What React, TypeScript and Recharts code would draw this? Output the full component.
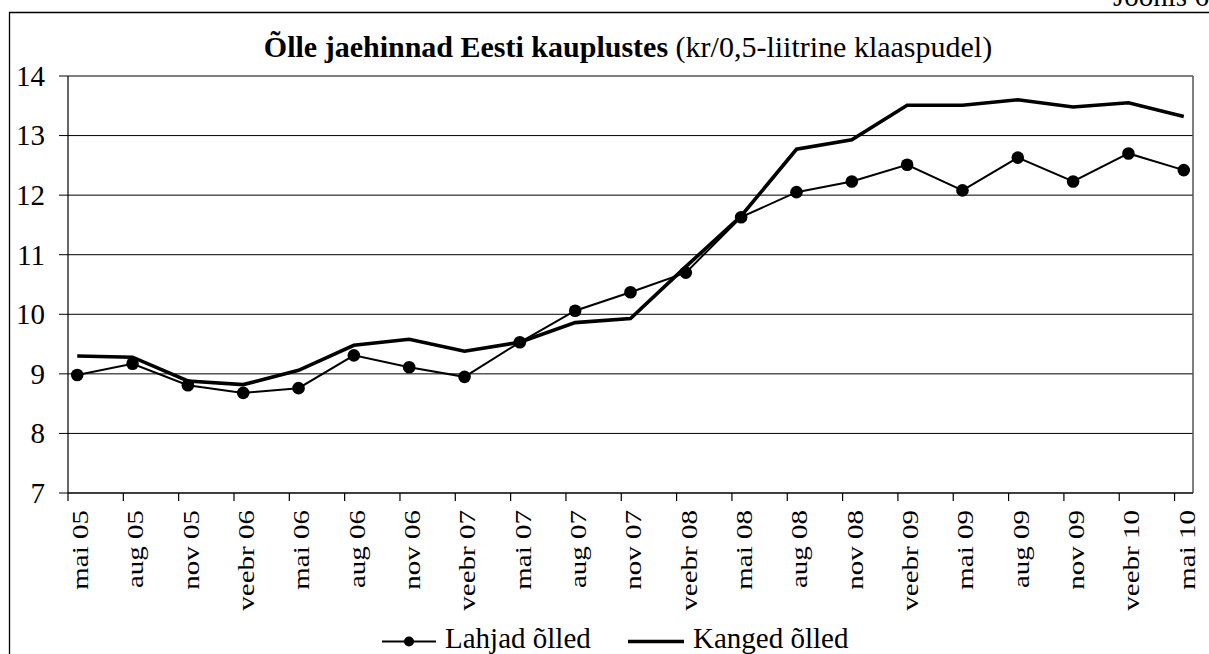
import { LineChart, Line, XAxis, YAxis, CartesianGrid, ReferenceLine } from 'recharts'

const FONT = '"Liberation Serif", "Times New Roman", serif'

// quarterly observations, first month of each quarter
const categories = [
  'mai 05', 'aug 05', 'nov 05', 'veebr 06', 'mai 06', 'aug 06', 'nov 06',
  'veebr 07', 'mai 07', 'aug 07', 'nov 07', 'veebr 08', 'mai 08', 'aug 08',
  'nov 08', 'veebr 09', 'mai 09', 'aug 09', 'nov 09', 'veebr 10', 'mai 10',
]

const lahjad = [
  8.98, 9.17, 8.81, 8.68, 8.76, 9.31, 9.11, 8.95, 9.53, 10.06, 10.37,
  10.7, 11.63, 12.05, 12.23, 12.51, 12.08, 12.63, 12.23, 12.7, 12.42,
]

const kanged = [
  9.3, 9.28, 8.88, 8.82, 9.06, 9.48, 9.58, 9.38, 9.53, 9.86, 9.93,
  10.8, 11.65, 12.77, 12.93, 13.51, 13.51, 13.6, 13.48, 13.55, 13.32,
]

const yTicks = [7, 8, 9, 10, 11, 12, 13, 14]

const seriesNames = { lahjad: 'Lahjad õlled', kanged: 'Kanged õlled' }
const titleBold = 'Õlle jaehinnad Eesti kauplustes'
const titleRest = ' (kr/0,5-liitrine klaaspudel)'
const figureLabel = 'Joonis 6'

// date axis in months since May 2005; points sit mid-month
const monthTicks = categories.map((_, i) => i * 3)
const data = categories.map((c, i) => ({
  m: i * 3 + 0.5,
  label: c,
  lahjad: lahjad[i],
  kanged: kanged[i],
}))

function MonthTick(props: any) {
  const { x, y, payload } = props
  const label = categories[Math.round(payload.value / 3)]
  return (
    <text
      transform={`translate(${x + 20},${y}) rotate(-90) scale(1,0.77)`}
      textAnchor="end"
      fontSize={29}
      fontFamily={FONT}
      fill="#000"
    >
      {label}
    </text>
  )
}

function ValueTick(props: any) {
  const { x, y, payload } = props
  return (
    <text
      transform={`translate(${x},${y})`}
      dy="0.34em"
      textAnchor="end"
      fontSize={29}
      fontFamily={FONT}
      fill="#000"
    >
      {payload.value}
    </text>
  )
}

export default function App() {
  return (
    <div
      style={{
        position: 'absolute',
        left: 0,
        top: 0,
        width: 1209,
        height: 654,
        overflow: 'hidden',
        background: '#fff',
        fontFamily: FONT,
      }}
    >
      <LineChart
        width={1209}
        height={654}
        data={data}
        margin={{ top: 76, right: 16, bottom: 61, left: 0 }}
      >
        <CartesianGrid vertical={false} stroke="#000" strokeWidth={1} />
        <XAxis
          type="number"
          dataKey="m"
          domain={[0, 61]}
          ticks={monthTicks}
          interval={0}
          tickSize={8}
          tickMargin={9}
          height={100}
          tick={<MonthTick />}
          axisLine={{ stroke: '#000', strokeWidth: 1.2 }}
          tickLine={{ stroke: '#000', strokeWidth: 1.2 }}
          allowDataOverflow
        />
        <YAxis
          domain={[7, 14]}
          ticks={yTicks}
          interval={0}
          width={68}
          tickSize={9}
          tickMargin={14}
          tick={<ValueTick />}
          axisLine={{ stroke: '#000', strokeWidth: 1.2 }}
          tickLine={{ stroke: '#000', strokeWidth: 1 }}
          allowDataOverflow
        />
        <ReferenceLine x={61} stroke="#555" strokeWidth={1.5} />
        <Line
          dataKey="kanged"
          name={seriesNames.kanged}
          stroke="#000"
          strokeWidth={3.6}
          dot={false}
          activeDot={false}
          isAnimationActive={false}
        />
        <Line
          dataKey="lahjad"
          name={seriesNames.lahjad}
          stroke="#000"
          strokeWidth={2}
          dot={{ r: 6.3, fill: '#000', stroke: '#000', strokeWidth: 0 }}
          activeDot={false}
          isAnimationActive={false}
        />
      </LineChart>
      <svg
        width={1209}
        height={654}
        style={{ position: 'absolute', left: 0, top: 0, pointerEvents: 'none' }}
        fontFamily={FONT}
      >
        <path d="M9.5 660 V12.5 H1215" fill="none" stroke="#000" strokeWidth={1.3} />
        <text x={1113} y={6} fontSize={29} fill="#000">
          {figureLabel}
        </text>
        <text x={628} y={57} textAnchor="middle" fontSize={30} fill="#000">
          <tspan fontWeight="bold">{titleBold}</tspan>
          <tspan>{titleRest}</tspan>
        </text>
        <g>
          <line x1={382} y1={641.5} x2={436} y2={641.5} stroke="#000" strokeWidth={2} />
          <circle cx={409} cy={641.5} r={5} fill="#000" />
          <text x={445} y={648} fontSize={29} fill="#000">
            {seriesNames.lahjad}
          </text>
          <line x1={628} y1={641.5} x2={684} y2={641.5} stroke="#000" strokeWidth={3.6} />
          <text x={693} y={648} fontSize={29} fill="#000">
            {seriesNames.kanged}
          </text>
        </g>
      </svg>
    </div>
  )
}
